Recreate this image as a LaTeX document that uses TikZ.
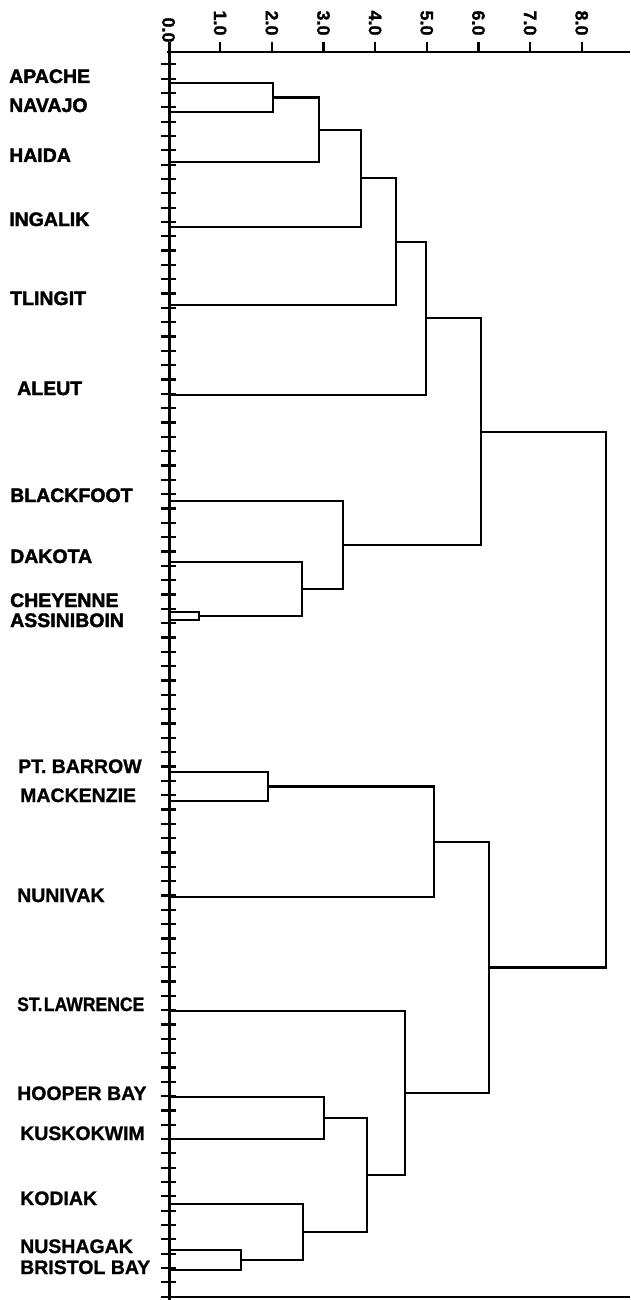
\documentclass[tikz,border=0pt]{standalone}
\usepackage{fontspec}
\setmainfont{Liberation Sans}
\newfontfamily\heavyfont{Liberation Sans Bold}[FakeBold=2]
\newfontfamily\midfont{Liberation Sans Bold}[FakeBold=1]
\begin{document}
\begin{tikzpicture}[x=1pt,y=-1pt,
  dline/.style={line width=2.2pt, line join=miter},
  axisline/.style={line width=3pt},
  tickline/.style={line width=2.2pt},
  toplab/.style={anchor=base west, inner sep=0pt, font=\heavyfont\fontsize{19.5}{20}\selectfont},
  lowlab/.style={anchor=base west, inner sep=0pt, font=\midfont\fontsize{19.5}{20}\selectfont},
  axlab/.style={rotate=-90, inner sep=0pt, font=\midfont\fontsize{18}{18}\selectfont}]
\useasboundingbox (0,0) rectangle (630,1300);
% frame and axis
\coordinate (axtop) at (169,42);
\coordinate (axbot) at (169,1300);
\coordinate (tl) at (167,52);
\coordinate (tr) at (630,52);
\coordinate (bl) at (167,1297);
\coordinate (br) at (630,1297);
\draw[axisline] (axtop) -- (axbot);
\draw[line width=2.2pt] (tl) -- (tr);
\draw[line width=1.8pt] (bl) -- (br);
\foreach \k in {0,...,86} {
  \draw[tickline] (161,{64.3+14.33*\k}) -- (176,{64.3+14.33*\k});
}
\foreach \v in {1,...,8} {
  \draw[tickline] ({168.5+51.65*\v},42) -- ({168.5+51.65*\v},52);
}
\node[axlab] (a0) at (168.5,30) {0.0};
\foreach \v in {1,...,8} {
  \node[axlab] (a\v) at ({168.5+51.65*\v},23) {\v.0};
}
% leaves
\coordinate (APACHE) at (169,83);
\coordinate (NAVAJO) at (169,112);
\coordinate (HAIDA) at (169,162);
\coordinate (INGALIK) at (169,227);
\coordinate (TLINGIT) at (169,305);
\coordinate (ALEUT) at (169,395);
\coordinate (BLACKFOOT) at (169,501);
\coordinate (DAKOTA) at (169,562);
\coordinate (CHEYENNE) at (169,612);
\coordinate (ASSINIBOIN) at (169,620);
\coordinate (PTBARROW) at (169,772);
\coordinate (MACKENZIE) at (169,801);
\coordinate (NUNIVAK) at (169,897);
\coordinate (STLAWRENCE) at (169,1011);
\coordinate (HOOPER) at (169,1097);
\coordinate (KUSKOKWIM) at (169,1139);
\coordinate (KODIAK) at (169,1204);
\coordinate (NUSHAGAK) at (169,1250);
\coordinate (BRISTOL) at (169,1270);
% labels
\node[toplab] (lAPACHE) at (9,83) {APACHE};
\node[toplab] (lNAVAJO) at (9,112) {NAVAJO};
\node[toplab] (lHAIDA) at (9,162) {HAIDA};
\node[toplab] (lINGALIK) at (9,226) {INGALIK};
\node[toplab] (lTLINGIT) at (10,305) {TLINGIT};
\node[toplab] (lALEUT) at (17,395) {ALEUT};
\node[toplab] (lBLACKFOOT) at (10,502) {BLACKFOOT};
\node[toplab] (lDAKOTA) at (10,563) {DAKOTA};
\node[toplab] (lCHEYENNE) at (10,607) {CHEYENNE};
\node[toplab] (lASSINIBOIN) at (10,627) {ASSINIBOIN};
\node[lowlab] (lPTBARROW) at (18,773) {PT. BARROW};
\node[lowlab] (lMACKENZIE) at (20,802) {MACKENZIE};
\node[lowlab] (lNUNIVAK) at (17,902) {NUNIVAK};
\node[lowlab, xscale=0.9] (lSTLAWRENCE) at (17,1011) {ST.\kern1.5pt LAWRENCE};
\node[lowlab] (lHOOPER) at (17,1100) {HOOPER BAY};
\node[lowlab] (lKUSKOKWIM) at (20,1140) {KUSKOKWIM};
\node[lowlab] (lKODIAK) at (20,1205) {KODIAK};
\node[lowlab] (lNUSHAGAK) at (20,1253) {NUSHAGAK};
\node[lowlab] (lBRISTOL) at (20,1274) {BRISTOL BAY};
% internal nodes
\coordinate (n1) at (273,97.5);
\coordinate (n2) at (319,129.75);
\coordinate (n3) at (361,178.4);
\coordinate (n4) at (396,241.7);
\coordinate (n5) at (426,318.3);
\coordinate (m1) at (199,616);
\coordinate (m2) at (302,589);
\coordinate (m3) at (343,545);
\coordinate (g1) at (481,431.7);
\coordinate (p1) at (268,786.5);
\coordinate (p2) at (434,841.75);
\coordinate (q1) at (241,1260);
\coordinate (q2) at (303,1232);
\coordinate (q3) at (324,1118);
\coordinate (q4) at (367,1175);
\coordinate (q5) at (405,1093);
\coordinate (g2) at (489,967.4);
\coordinate (root) at (606,699.5);
% connectors
\draw[dline] (APACHE) -| (n1);
\draw[dline] (NAVAJO) -| (n1);
\draw[dline] (n1) -| (n2);
\draw[dline] (HAIDA) -| (n2);
\draw[dline] (n2) -| (n3);
\draw[dline] (INGALIK) -| (n3);
\draw[dline] (n3) -| (n4);
\draw[dline] (TLINGIT) -| (n4);
\draw[dline] (n4) -| (n5);
\draw[dline] (ALEUT) -| (n5);
\draw[dline] (CHEYENNE) -| (m1);
\draw[dline] (ASSINIBOIN) -| (m1);
\draw[dline] (DAKOTA) -| (m2);
\draw[dline] (m1) -| (m2);
\draw[dline] (BLACKFOOT) -| (m3);
\draw[dline] (m2) -| (m3);
\draw[dline] (n5) -| (g1);
\draw[dline] (m3) -| (g1);
\draw[dline] (PTBARROW) -| (p1);
\draw[dline] (MACKENZIE) -| (p1);
\draw[dline] (p1) -| (p2);
\draw[dline] (NUNIVAK) -| (p2);
\draw[dline] (NUSHAGAK) -| (q1);
\draw[dline] (BRISTOL) -| (q1);
\draw[dline] (KODIAK) -| (q2);
\draw[dline] (q1) -| (q2);
\draw[dline] (HOOPER) -| (q3);
\draw[dline] (KUSKOKWIM) -| (q3);
\draw[dline] (q3) -| (q4);
\draw[dline] (q2) -| (q4);
\draw[dline] (STLAWRENCE) -| (q5);
\draw[dline] (q4) -| (q5);
\draw[dline] (p2) -| (g2);
\draw[dline] (q5) -| (g2);
\draw[dline] (g1) -| (root);
\draw[dline] (g2) -| (root);
\end{tikzpicture}
\end{document}
